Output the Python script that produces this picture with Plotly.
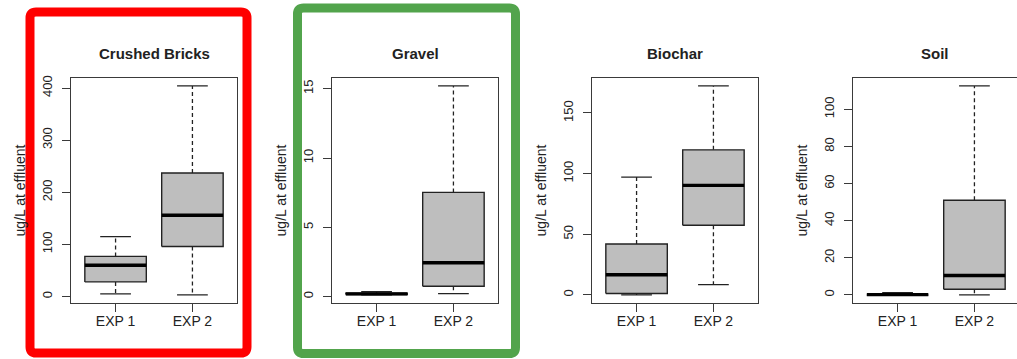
import plotly.graph_objects as go

W, H = 1017, 359

categories = ["EXP 1", "EXP 2"]
positions = [1, 2]
media = ["Crushed Bricks", "Gravel", "Biochar", "Soil"]

bricks_lo = [5, 3]
bricks_q1 = [28, 96]
bricks_med = [60, 156]
bricks_q3 = [77, 237]
bricks_hi = [115, 404]

gravel_lo = [0.12, 0.22]
gravel_q1 = [0.15, 0.75]
gravel_med = [0.2, 2.44]
gravel_q3 = [0.24, 7.52]
gravel_hi = [0.35, 15.2]

biochar_lo = [0, 8.5]
biochar_q1 = [1.2, 57.4]
biochar_med = [16.6, 90.3]
biochar_q3 = [42, 119.6]
biochar_hi = [97.2, 172.3]

soil_lo = [0, 0]
soil_q1 = [0, 3.1]
soil_med = [0.2, 10.5]
soil_q3 = [0.4, 51]
soil_hi = [1.2, 112.6]

bricks_ticks = [0, 100, 200, 300, 400]
gravel_ticks = [0, 5, 10, 15]
biochar_ticks = [0, 50, 100, 150]
soil_ticks = [0, 20, 40, 60, 80, 100]

y_title = "ug/L at effluent"

stats = [
    (bricks_lo, bricks_q1, bricks_med, bricks_q3, bricks_hi, bricks_ticks),
    (gravel_lo, gravel_q1, gravel_med, gravel_q3, gravel_hi, gravel_ticks),
    (biochar_lo, biochar_q1, biochar_med, biochar_q3, biochar_hi, biochar_ticks),
    (soil_lo, soil_q1, soil_med, soil_q3, soil_hi, soil_ticks),
]

# plot-box pixel positions
left_px = [71, 332, 592, 853]
box_w_px = 166
top_px, bot_px = 76, 303

FONT = "Liberation Sans, Arial, sans-serif"
INK = "#222222"
FRAME = "#3a3a3a"

fig = go.Figure()
BW = 0.4   # half box width (boxwex 0.8)
SW = 0.2   # half staple width

for i, (lo, q1, med, q3, hi, ticks) in enumerate(stats):
    ax = "" if i == 0 else str(i + 1)
    xa, ya = "x" + ax, "y" + ax
    for j, p in enumerate(positions):
        # whiskers (dashed)
        fig.add_trace(go.Scatter(
            x=[p, p, None, p, p], y=[q3[j], hi[j], None, q1[j], lo[j]],
            mode="lines", line=dict(color=INK, width=1.3, dash="4px,3px"),
            xaxis=xa, yaxis=ya, showlegend=False, hoverinfo="skip"))
        # staples
        fig.add_trace(go.Scatter(
            x=[p - SW, p + SW, None, p - SW, p + SW],
            y=[hi[j], hi[j], None, lo[j], lo[j]],
            mode="lines", line=dict(color=INK, width=1.3),
            xaxis=xa, yaxis=ya, showlegend=False, hoverinfo="skip"))
        # box
        fig.add_trace(go.Scatter(
            x=[p - BW, p + BW, p + BW, p - BW, p - BW],
            y=[q1[j], q1[j], q3[j], q3[j], q1[j]],
            mode="lines", fill="toself", fillcolor="#BEBEBE",
            line=dict(color=INK, width=1.4),
            xaxis=xa, yaxis=ya, showlegend=False, hoverinfo="skip"))
        # median
        fig.add_trace(go.Scatter(
            x=[p - BW, p + BW], y=[med[j], med[j]],
            mode="lines", line=dict(color="black", width=3.4),
            xaxis=xa, yaxis=ya, showlegend=False, hoverinfo="skip"))

    ymin = min(lo)
    ymax = max(hi)
    pad = (ymax - ymin) * 0.04
    x0 = left_px[i] / W
    if i < 3:
        x1 = (left_px[i] + box_w_px) / W
        xr = [0.42, 2.58]
    else:
        x1 = 1.0
        xr = [0.42, 0.42 + (W - left_px[i]) / box_w_px * 2.16]
    fig.update_layout(**{
        "xaxis" + ax: dict(
            domain=[x0, x1], range=xr, anchor=ya,
            tickvals=positions, ticktext=categories, ticklabelstandoff=-3,
            showline=True, mirror=True, linecolor=FRAME, linewidth=1.3,
            ticks="outside", ticklen=8, tickcolor=FRAME, tickwidth=1.3,
            showgrid=False, zeroline=False,
            tickfont=dict(family=FONT, size=14, color=INK),
        ),
        "yaxis" + ax: dict(
            domain=[1 - bot_px / H, 1 - top_px / H],
            range=[ymin - pad, ymax + pad], anchor=xa,
            tickvals=ticks, tickangle=-90, ticklabelstandoff=5,
            showline=True, mirror=(i < 3), linecolor=FRAME, linewidth=1.3,
            ticks="outside", ticklen=8, tickcolor=FRAME, tickwidth=1.3,
            showgrid=False, zeroline=False,
            tickfont=dict(family=FONT, size=13, color=INK),
        ),
    })
    fig.add_annotation(
        text="<b>%s</b>" % media[i], xref=xa + " domain", yref=ya + " domain",
        x=0.5, y=1, yshift=24, showarrow=False, xanchor="center", yanchor="middle",
        font=dict(family=FONT, size=15, color=INK))
    fig.add_annotation(
        text=y_title, xref=xa + " domain", yref=ya + " domain",
        x=0, y=0.5, xshift=-51, showarrow=False, textangle=-90,
        xanchor="center", yanchor="middle",
        font=dict(family=FONT, size=14, color=INK))


def rounded(x0, y0, x1, y1, r):
    px = lambda v: v / W
    py = lambda v: 1 - v / H
    return (f"M {px(x0 + r)},{py(y0)} L {px(x1 - r)},{py(y0)} "
            f"Q {px(x1)},{py(y0)} {px(x1)},{py(y0 + r)} "
            f"L {px(x1)},{py(y1 - r)} Q {px(x1)},{py(y1)} {px(x1 - r)},{py(y1)} "
            f"L {px(x0 + r)},{py(y1)} Q {px(x0)},{py(y1)} {px(x0)},{py(y1 - r)} "
            f"L {px(x0)},{py(y0 + r)} Q {px(x0)},{py(y0)} {px(x0 + r)},{py(y0)} Z")


fig.add_shape(type="path", xref="paper", yref="paper",
              path=rounded(30, 10, 247, 353, 6),
              line=dict(color="#FF0000", width=9))
fig.add_shape(type="path", xref="paper", yref="paper",
              path=rounded(297.5, 6, 515.5, 353.5, 6),
              line=dict(color="#52A44C", width=9))

fig.update_layout(
    width=W, height=H, margin=dict(l=0, r=0, t=0, b=0),
    paper_bgcolor="white", plot_bgcolor="white",
    showlegend=False,
)

fig.write_html("out.html", post_script="document.body.style.margin='0';",
               config={"displayModeBar": False})
